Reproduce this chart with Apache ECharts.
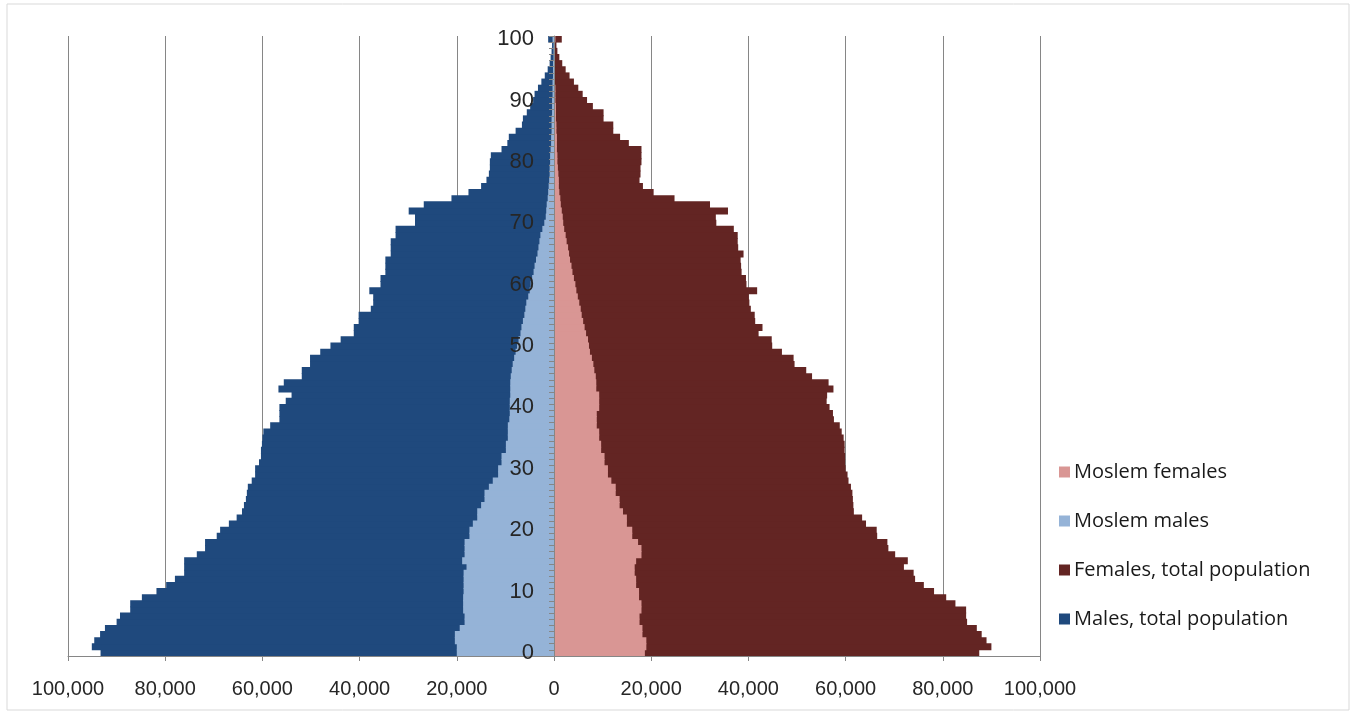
<!DOCTYPE html>
<html lang="en">
<head>
    <meta charset="UTF-8">
    <title>Population pyramid</title>
    <script src="https://cdn.jsdelivr.net/npm/echarts@6/dist/echarts.min.js"></script>
    <style>
        body { margin: 0; background: #fff; }
    </style>
</head>
<body>
<div id="main" style="width: 1356px;height:715px;"></div>

<script>
    // ages 0..100, bottom to top
    var ages = [];
    for (var a = 0; a <= 100; a++) { ages.push(String(a)); }

    // males are stored negative so they go to the left of the axis
    var malesTotal = [
        -93300, -95100, -94600, -93400, -92400, -90000, -89300, -87200, -87200, -84800,
        -81800, -79800, -78000, -76100, -76100, -76100, -73500, -71800, -71800, -69400,
        -68700, -66900, -65300, -64200, -63800, -63400, -63200, -63000, -62200, -61500,
        -61500, -60700, -60300, -60300, -60100, -60000, -59800, -58400, -56500, -56500,
        -56500, -55200, -54000, -56700, -55600, -51900, -51900, -50200, -50200, -48100,
        -46000, -43900, -41200, -41200, -40200, -40200, -37700, -37200, -37200, -38000,
        -35700, -35700, -34700, -34700, -34700, -33600, -33600, -33600, -32600, -32600,
        -28600, -28600, -29900, -26800, -21100, -17600, -15000, -13900, -13400, -13200,
        -13200, -13000, -10800, -9600, -9300, -7900, -6600, -6400, -5600, -4900,
        -4300, -4000, -3300, -2600, -1900, -1300, -900, -700, -500, -400,
        -1200
    ];
    var femalesTotal = [
        87500, 90000, 89000, 88000, 87000, 85000, 84800, 84800, 82600, 80700,
        78200, 76100, 74300, 74000, 72000, 72800, 70200, 68800, 68600, 66500,
        66400, 64200, 63400, 61700, 61600, 61500, 61400, 61100, 60600, 60400,
        60000, 59900, 59900, 59800, 59800, 59600, 59200, 58800, 57600, 57400,
        56700, 56100, 56200, 57500, 56500, 53100, 51900, 49500, 49300, 46900,
        44900, 44800, 42100, 42900, 41400, 41300, 40500, 40200, 40100, 41800,
        39600, 39500, 38600, 38500, 38400, 39000, 37900, 37800, 37800, 37000,
        33400, 33300, 35800, 32100, 24800, 20500, 18300, 17600, 17800, 17800,
        18000, 18000, 18000, 15400, 13600, 12200, 12200, 10200, 10200, 8000,
        6800, 5900, 5000, 4100, 3200, 2400, 1700, 1100, 700, 500,
        1600
    ];
    var moslemMales = [
        -20000, -20000, -20400, -20400, -19400, -18400, -18400, -18700, -18700, -18700,
        -18600, -18600, -18600, -18600, -18000, -18900, -18400, -18400, -18400, -17400,
        -17400, -16700, -15800, -15800, -15000, -14300, -14300, -13400, -12600, -11500,
        -11500, -10800, -10800, -9900, -9900, -9500, -9500, -9500, -9200, -9100,
        -9100, -9100, -9000, -9000, -9000, -8900, -8700, -8500, -8200, -7900,
        -7600, -7300, -6900, -6700, -6400, -6100, -5900, -5700, -5300, -5000,
        -4800, -4500, -4200, -4000, -3700, -3400, -3200, -3000, -2800, -2400,
        -2000, -1700, -1600, -1500, -1300, -1200, -1100, -1000, -900, -900,
        -800, -800, -700, -600, -600, -500, -500, -500, -400, -400,
        -400, -300, -300, -300, -200, -200, -200, -100, -100, -100,
        -300
    ];
    var moslemFemales = [
        18700, 19000, 19000, 18200, 18200, 17600, 17600, 18000, 18000, 17500,
        17500, 16900, 16900, 16600, 16600, 16900, 18000, 18000, 17300, 16100,
        16100, 15000, 15000, 14200, 13500, 13500, 12700, 12700, 11800, 11100,
        11100, 10400, 10400, 9700, 9700, 9300, 9300, 8800, 8800, 8800,
        9300, 9300, 9300, 8700, 8700, 8600, 8300, 8100, 7800, 7400,
        7200, 7000, 6600, 6300, 6000, 5700, 5500, 5200, 4900, 4600,
        4400, 4100, 3800, 3600, 3300, 3100, 2900, 2600, 2400, 2100,
        1900, 1800, 1600, 1400, 1300, 1100, 1000, 1000, 900, 800,
        700, 700, 600, 600, 600, 500, 500, 400, 400, 400,
        300, 300, 300, 200, 200, 200, 200, 100, 100, 100,
        300
    ];

    var legendNames = ['Moslem females', 'Moslem males', 'Females, total population', 'Males, total population'];

    var chart = echarts.init(document.getElementById('main'));

    function barSeries(name, data, color) {
        return {
            name: name,
            type: 'bar',
            data: data,
            barGap: '-100%',
            // slightly wider than one row (6.14px) so neighbouring rows overlap
            // and no white hairline shows between them
            barWidth: 7,
            itemStyle: { color: color },
            emphasis: { disabled: true },
            animation: false
        };
    }

    var option = {
        backgroundColor: '#fff',
        animation: false,
        graphic: [{
            type: 'rect',
            shape: { x: 7, y: 4, width: 1342, height: 706 },
            style: { fill: 'none', stroke: '#d9d9d9', lineWidth: 1 },
            silent: true
        }],
        legend: {
            data: legendNames,
            orient: 'vertical',
            left: 1054,
            top: 457,
            itemWidth: 11,
            itemHeight: 11,
            itemGap: 29,
            icon: 'rect',
            textStyle: {
                fontFamily: 'Open Sans',
                fontSize: 20,
                color: '#1a1a1a',
                padding: [0, 0, 0, -1]
            }
        },
        grid: {
            left: 68,
            right: 316,
            top: 36,
            bottom: 59
        },
        xAxis: {
            type: 'value',
            min: -100000,
            max: 100000,
            interval: 20000,
            axisLine: { show: true, lineStyle: { color: '#868686' } },
            axisTick: { show: true, length: 5, lineStyle: { color: '#868686' } },
            splitLine: { show: true, lineStyle: { color: '#868686', width: 1 } },
            axisLabel: {
                margin: 23,
                fontFamily: 'Liberation Sans',
                fontSize: 20,
                color: '#262626',
                formatter: function (v) {
                    return Math.abs(v).toLocaleString('en-US');
                }
            }
        },
        yAxis: {
            type: 'category',
            data: ages,
            z: 10,
            // shift the age axis from the grid's left edge to the 0 line
            offset: -486,
            axisLine: { show: true, onZero: false, lineStyle: { color: '#868686' } },
            axisTick: { show: true, interval: 0, length: 5, lineStyle: { color: '#868686' } },
            axisLabel: {
                interval: 9,
                margin: 20,
                fontFamily: 'Liberation Sans',
                fontSize: 22,
                color: '#262626'
            },
            splitLine: { show: false }
        },
        series: [
            barSeries('Males, total population', malesTotal, '#1f497d'),
            barSeries('Females, total population', femalesTotal, '#632523'),
            barSeries('Moslem males', moslemMales, '#95b3d7'),
            barSeries('Moslem females', moslemFemales, '#d99694')
        ]
    };
    chart.setOption(option);
</script>
</body>
</html>
